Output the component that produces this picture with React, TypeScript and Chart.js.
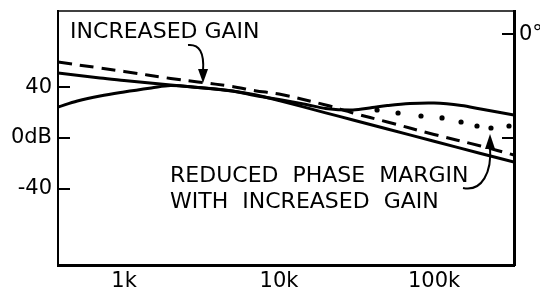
import React, { useEffect, useRef } from "react";
import { Chart, registerables } from "chart.js";

Chart.register(...registerables);

// ---- Data (frequency in Hz, gain in dB, phase in degrees) ----
const gainFreqs = [375, 700, 1000, 2000, 3000, 5000, 7000, 10000, 20000, 30000, 50000, 100000, 200000, 328000];
const baseGain = [51.2, 47.2, 45.3, 41.7, 39.8, 37.0, 34.0, 29.5, 19.8, 14.2, 7.1, -2.6, -12.2, -18.9];
const increasedGain = [59.8, 55.1, 52.4, 46.9, 44.1, 40.6, 37.2, 34.6, 26.0, 19.7, 12.6, 2.8, -6.3, -13.4];

const phaseFreqs = [375, 500, 700, 1000, 1500, 2000, 3000, 5000, 7000, 10000, 15000, 20000, 30000, 40000, 50000, 70000, 100000, 150000, 200000, 328000];
const phase = [-126.3, -115.9, -107.2, -100.3, -93.4, -89.0, -92.5, -98.6, -106.4, -113.3, -122.0, -128.9, -131.5, -127.2, -123.7, -120.2, -119.4, -123.7, -129.8, -140.1];

const reducedPhaseFreqs = [42900, 58600, 82400, 112600, 149400, 189300, 233000, 304500];
const reducedPhase = [-131.5, -136.7, -141.9, -145.3, -152.3, -159.2, -162.7, -159.2];

const xTickValues = [1000, 10000, 100000];
const xTickLabels = ["1k", "10k", "100k"];
const yTickValues = [-40, 0, 40];
const yTickLabels = ["-40", "0dB", "40"];
const phaseTickValues = [-180, 0];
const phaseTickLabels = ["", "0°"];

const label1 = "INCREASED GAIN";
const label2 = ["REDUCED PHASE MARGIN", "WITH INCREASED GAIN"];

const FONT = '"DejaVu Sans", sans-serif';

const toXY = (xs: number[], ys: number[]) => xs.map((x, i) => ({ x, y: ys[i] }));

const zeroPad = (s: any) => {
  s.paddingTop = 0;
  s.paddingBottom = 0;
  s.paddingLeft = 0;
  s.paddingRight = 0;
};

const annotationPlugin = {
  id: "annotations",
  afterDraw(chart: any) {
    const { ctx, chartArea: a, scales } = chart;
    const xs = scales.x;
    const ys = scales.y;
    const P = (f: number, d: number): [number, number] => [xs.getPixelForValue(f), ys.getPixelForValue(d)];
    ctx.save();
    // top frame line
    ctx.strokeStyle = "#000";
    ctx.lineWidth = 1.5;
    ctx.beginPath();
    ctx.moveTo(a.left, a.top);
    ctx.lineTo(a.right, a.top);
    ctx.stroke();

    ctx.fillStyle = "#000";
    ctx.font = `22px ${FONT}`;
    ctx.textAlign = "left";
    ctx.textBaseline = "alphabetic";
    let p = P(449, 78.7);
    ctx.fillText(label1, p[0], p[1]);
    try {
      (ctx as any).wordSpacing = "7px";
    } catch (e) {}
    p = P(1982, -34.6);
    ctx.fillText(label2[0], p[0], p[1]);
    p = P(1982, -55.1);
    ctx.fillText(label2[1], p[0], p[1]);
    try {
      (ctx as any).wordSpacing = "0px";
    } catch (e) {}

    // arrow 1 (increased gain)
    ctx.lineWidth = 2;
    const t1 = P(2587, 73.2);
    const c1 = P(3332, 74.5);
    const e1 = P(3234, 52.8);
    const tip1 = P(3234, 43.3);
    ctx.beginPath();
    ctx.moveTo(t1[0], t1[1]);
    ctx.quadraticCurveTo(c1[0], c1[1], e1[0], e1[1]);
    ctx.stroke();
    ctx.beginPath();
    ctx.moveTo(tip1[0], tip1[1]);
    ctx.lineTo(e1[0] - 5, e1[1] - 2);
    ctx.lineTo(e1[0] + 5, e1[1] - 2);
    ctx.closePath();
    ctx.fill();

    // arrow 2 (reduced phase margin)
    const t2 = P(153800, -39.4);
    const c2a = P(204000, -42.5);
    const c2b = P(236600, -26.8);
    const e2 = P(229700, -7.1);
    const tip2 = P(229700, 3.1);
    ctx.beginPath();
    ctx.moveTo(t2[0], t2[1]);
    ctx.bezierCurveTo(c2a[0], c2a[1], c2b[0], c2b[1], e2[0], e2[1]);
    ctx.stroke();
    ctx.beginPath();
    ctx.moveTo(tip2[0], tip2[1]);
    ctx.lineTo(e2[0] - 5, e2[1] + 2);
    ctx.lineTo(e2[0] + 5, e2[1] + 2);
    ctx.closePath();
    ctx.fill();
    ctx.restore();
  },
};

export default function App() {
  const canvasRef = useRef<HTMLCanvasElement | null>(null);

  useEffect(() => {
    document.body.style.margin = "0";
    const canvas = canvasRef.current;
    if (!canvas) return;
    const chart = new Chart(canvas, {
      type: "line",
      data: {
        datasets: [
          {
            label: "Increased gain",
            data: toXY(gainFreqs, increasedGain),
            yAxisID: "y",
            borderColor: "#000",
            borderWidth: 3,
            borderDash: [14, 8],
            pointRadius: 0,
            fill: false,
            tension: 0.35,
          },
          {
            label: "Gain",
            data: toXY(gainFreqs, baseGain),
            yAxisID: "y",
            borderColor: "#000",
            borderWidth: 3,
            pointRadius: 0,
            fill: false,
            tension: 0.35,
          },
          {
            label: "Phase",
            data: toXY(phaseFreqs, phase),
            yAxisID: "y2",
            borderColor: "#000",
            borderWidth: 3,
            pointRadius: 0,
            fill: false,
            tension: 0.35,
          },
          {
            label: "Phase with increased gain",
            data: toXY(reducedPhaseFreqs, reducedPhase),
            yAxisID: "y2",
            showLine: false,
            borderColor: "#000",
            backgroundColor: "#000",
            pointRadius: 2.6,
            pointBorderWidth: 0,
            pointBackgroundColor: "#000",
          },
        ],
      },
      options: {
        animation: false,
        responsive: false,
        devicePixelRatio: 1,
        layout: { padding: { top: 11, left: 0, right: 0, bottom: 0 } },
        plugins: { legend: { display: false }, tooltip: { enabled: false } },
        scales: {
          x: {
            type: "logarithmic",
            position: "bottom",
            min: 375,
            max: 328000,
            grid: { drawOnChartArea: false, drawTicks: false },
            border: { display: true, color: "#000", width: 3 },
            ticks: {
              color: "#000",
              font: { family: FONT, size: 21 },
              padding: 4,
              autoSkip: false,
              maxRotation: 0,
              callback: (_v: any, i: number) => xTickLabels[i],
            },
            afterBuildTicks: (s: any) => {
              s.ticks = xTickValues.map((v) => ({ value: v }));
            },
            afterFit: (s: any) => {
              s.height = 32;
              zeroPad(s);
            },
          },
          y: {
            type: "linear",
            position: "left",
            min: -100,
            max: 100,
            grid: { drawOnChartArea: false, drawTicks: true, tickLength: -12, lineWidth: 2, color: "#000" },
            border: { display: true, color: "#000", width: 2 },
            ticks: {
              color: "#000",
              font: { family: FONT, size: 21 },
              padding: 18,
              callback: (_v: any, i: number) => yTickLabels[i],
            },
            afterBuildTicks: (s: any) => {
              s.ticks = yTickValues.map((v) => ({ value: v }));
            },
            afterFit: (s: any) => {
              s.width = 58;
              zeroPad(s);
            },
          },
          y2: {
            type: "linear",
            position: "right",
            min: -400,
            max: 40,
            grid: { drawOnChartArea: false, drawTicks: true, tickLength: -12, lineWidth: 2, color: "#000" },
            border: { display: true, color: "#000", width: 3 },
            ticks: {
              color: "#000",
              font: { family: FONT, size: 21 },
              padding: 17,
              callback: (_v: any, i: number) => phaseTickLabels[i],
            },
            afterBuildTicks: (s: any) => {
              s.ticks = phaseTickValues.map((v) => ({ value: v }));
            },
            afterFit: (s: any) => {
              s.width = 26;
              zeroPad(s);
            },
          },
        },
      },
      plugins: [annotationPlugin],
    });
    return () => chart.destroy();
  }, []);

  return (
    <div style={{ position: "absolute", left: 0, top: 0, width: 540, height: 297, background: "#fff" }}>
      <canvas ref={canvasRef} width={540} height={297} />
    </div>
  );
}
